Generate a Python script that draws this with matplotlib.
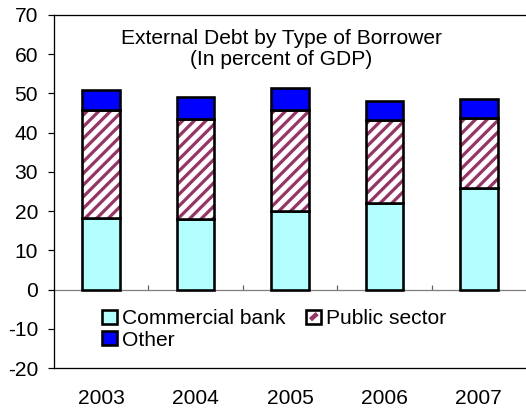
import numpy as np
import matplotlib
matplotlib.use("Agg")
import matplotlib.pyplot as plt
from matplotlib.patches import Patch

DPI = 140


def pt(px):
    # pixel size -> points at the save dpi
    return px * 72.0 / DPI


plt.rcParams['font.family'] = ['Liberation Sans', 'DejaVu Sans']
plt.rcParams['axes.unicode_minus'] = False
plt.rcParams['hatch.linewidth'] = pt(3.2)

years = ['2003', '2004', '2005', '2006', '2007']
commercial_bank = [18.3, 18.0, 20.0, 22.1, 25.8]
public_sector = [27.6, 25.4, 25.7, 21.1, 18.0]
other = [5.1, 5.8, 5.7, 4.8, 4.7]

cyan = '#B3FFFF'
maroon = '#993366'
blue = '#0000FF'

fs = pt(21)
edge = pt(2.6)

x = np.arange(len(years))
base2 = np.array(commercial_bank)
base3 = base2 + np.array(public_sector)
w = 0.4

fig = plt.figure(figsize=(526 / DPI, 414 / DPI), dpi=DPI)
ax = fig.add_axes([54 / 526, 1 - 368 / 414, 472 / 526, 353 / 414])

ax.bar(x, commercial_bank, w, color=cyan, edgecolor='black', linewidth=edge)
# hatched layer: stripes first, black outline on top
ax.bar(x, public_sector, w, bottom=base2, color='white', edgecolor=maroon,
       hatch='////', linewidth=0)
ax.bar(x, public_sector, w, bottom=base2, fill=False, edgecolor='black', linewidth=edge)
ax.bar(x, other, w, bottom=base3, color=blue, edgecolor='black', linewidth=edge)

ax.set_xlim(-0.5, len(years) - 0.5)
ax.set_ylim(-20, 70)
ax.set_yticks(np.arange(-20, 71, 10))
ax.tick_params(axis='y', labelsize=fs, length=pt(6), width=pt(1.2),
               direction='out', pad=pt(10))

ax.set_xticks(x)
ax.set_xticklabels(years)
ax.tick_params(axis='x', labelsize=fs, length=0, pad=pt(21))

for s in ['top', 'bottom', 'left']:
    ax.spines[s].set_linewidth(pt(1.3))
ax.spines['right'].set_visible(False)

# zero line with category dividers
zero = ax.secondary_xaxis(0, transform=ax.transData)
zero.spines['bottom'].set_color('#808080')
zero.spines['bottom'].set_linewidth(pt(1.3))
zero.set_xticks(x[:-1] + 0.5)
zero.set_xticklabels([])
zero.tick_params(axis='x', direction='in', length=pt(5), width=pt(1.2), color='#606060')

ax.text(1.91, 61.3, 'External Debt by Type of Borrower\n(In percent of GDP)',
        ha='center', va='center', fontsize=fs, linespacing=1.1)

handles = [Patch(facecolor=cyan, edgecolor='black', linewidth=edge),
           Patch(facecolor=blue, edgecolor='black', linewidth=edge),
           Patch(facecolor='white', edgecolor='black', linewidth=edge)]
labels = ['Commercial bank', 'Other', 'Public sector']
leg = ax.legend(handles, labels, ncol=2, loc='upper left',
                bbox_to_anchor=(0.1017, 0.167), frameon=False, fontsize=fs,
                handlelength=0.7, handleheight=0.65, handletextpad=0.25,
                labelspacing=0.12, columnspacing=1.0, borderaxespad=0, borderpad=0)

# single diagonal stripe inside the public sector key
fig.canvas.draw()
bb = leg.legend_handles[2].get_window_extent()
fig.add_artist(plt.Line2D([bb.x0 + 4, bb.x1 - 4], [bb.y0 + 4, bb.y1 - 4],
                          color=maroon, linewidth=pt(4.5), transform=None,
                          solid_capstyle='butt', zorder=10))

fig.savefig('out.png', dpi=DPI)
